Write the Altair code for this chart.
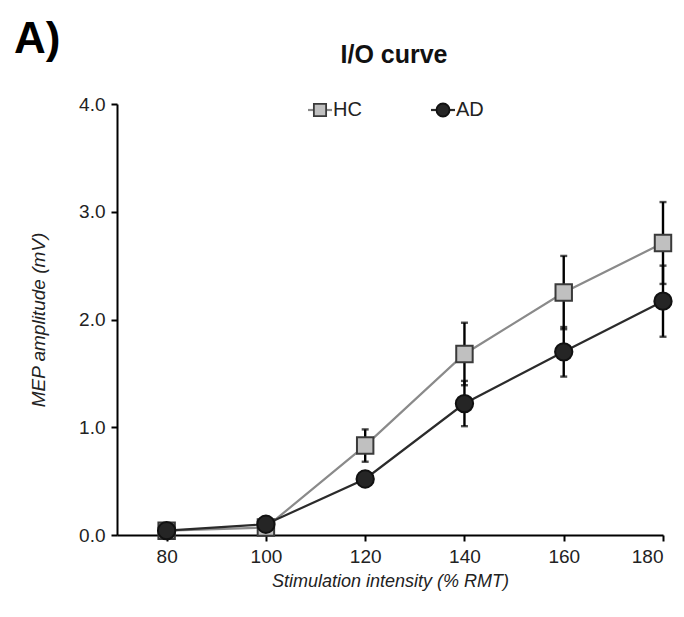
import altair as alt
import pandas as pd

# Stimulation intensities (% RMT)
intensity = [80, 100, 120, 140, 160, 180]

# Mean MEP amplitude (mV) and error per group
hc_mean = [0.04, 0.07, 0.83, 1.68, 2.25, 2.71]
hc_err = [0.02, 0.03, 0.15, 0.29, 0.34, 0.38]
ad_mean = [0.04, 0.10, 0.52, 1.22, 1.70, 2.17]
ad_err = [0.02, 0.03, 0.06, 0.21, 0.23, 0.33]

groups = ["HC", "AD"]

rows = []
for g, means, errs in (("HC", hc_mean, hc_err), ("AD", ad_mean, ad_err)):
    for x, m, e in zip(intensity, means, errs):
        rows.append({"group": g, "x": x, "mean": m, "lo": m - e, "hi": m + e})
df = pd.DataFrame(rows)
hc_df = df[df.group == "HC"]
ad_df = df[df.group == "AD"]

FONT = "Liberation Sans"
W, H = 546, 431

xscale = alt.Scale(domain=[70, 180], nice=False, zero=False)
yscale = alt.Scale(domain=[0, 4], nice=False)

x_axis = alt.Axis(
    values=intensity, title="Stimulation  intensity  (% RMT)", grid=False,
    labelFontSize=19, labelColor="#222222", labelFont=FONT, labelPadding=6,
    titleFontSize=18, titleFont=FONT, titleFontStyle="italic", titleFontWeight="normal",
    titleColor="#222222", titlePadding=6,
    domainColor="#000000", domainWidth=2, tickColor="#000000", tickWidth=2, tickSize=6,
)
y_axis = alt.Axis(
    values=[0, 1, 2, 3, 4], format=".1f", title="MEP amplitude   (mV)", grid=False,
    labelFontSize=19, labelColor="#222222", labelFont=FONT, labelPadding=6,
    titleFontSize=19, titleFont=FONT, titleFontStyle="italic", titleFontWeight="normal",
    titleColor="#222222", titlePadding=30,
    domainColor="#000000", domainWidth=2, tickColor="#000000", tickWidth=2, tickSize=6,
)

X = alt.X("x:Q", scale=xscale, axis=x_axis)
Y = alt.Y("mean:Q", scale=yscale, axis=y_axis)

hc_line = alt.Chart(hc_df).mark_line(color="#8a8a8a", strokeWidth=2.2).encode(x=X, y=Y)
ad_line = alt.Chart(ad_df).mark_line(color="#2b2b2b", strokeWidth=2.2).encode(x=X, y=Y)

bars = alt.Chart(df).mark_rule(color="#000000", strokeWidth=2.4).encode(
    x=alt.X("x:Q", scale=xscale), y=alt.Y("lo:Q", scale=yscale), y2="hi:Q"
)
caps_hi = alt.Chart(df).mark_tick(color="#000000", thickness=2.4, size=7, orient="horizontal").encode(
    x=alt.X("x:Q", scale=xscale), y=alt.Y("hi:Q", scale=yscale)
)
caps_lo = alt.Chart(df).mark_tick(color="#000000", thickness=2.4, size=7, orient="horizontal").encode(
    x=alt.X("x:Q", scale=xscale), y=alt.Y("lo:Q", scale=yscale)
)

hc_pts = alt.Chart(hc_df).mark_point(
    shape="square", size=270, filled=True, fill="#c0c0c0", stroke="#3a3a3a", strokeWidth=2, opacity=1
).encode(x=X, y=Y)
ad_pts = alt.Chart(ad_df).mark_point(
    shape="circle", size=300, filled=True, fill="#252525", stroke="#111111", strokeWidth=2, opacity=1
).encode(x=X, y=Y)

# Legend drawn at the top of the plot area
leg = pd.DataFrame({"group": groups})
leg_y = alt.value(6)
hc_leg_line = alt.Chart(leg[leg.group == "HC"]).mark_rule(color="#8a8a8a", strokeWidth=2.2).encode(
    x=alt.value(191), x2=alt.value(215), y=leg_y)
ad_leg_line = alt.Chart(leg[leg.group == "AD"]).mark_rule(color="#2b2b2b", strokeWidth=2.2).encode(
    x=alt.value(314), x2=alt.value(338), y=leg_y)
hc_leg_pt = alt.Chart(leg[leg.group == "HC"]).mark_point(
    shape="square", size=150, filled=True, fill="#c0c0c0", stroke="#3a3a3a", strokeWidth=1.8, opacity=1
).encode(x=alt.value(203), y=leg_y)
ad_leg_pt = alt.Chart(leg[leg.group == "AD"]).mark_point(
    shape="circle", size=170, filled=True, fill="#252525", stroke="#111111", strokeWidth=1.8, opacity=1
).encode(x=alt.value(326), y=leg_y)
hc_leg_txt = alt.Chart(leg[leg.group == "HC"]).mark_text(
    align="left", baseline="middle", fontSize=20, font=FONT, color="#222222"
).encode(x=alt.value(216), y=leg_y, text="group:N")
ad_leg_txt = alt.Chart(leg[leg.group == "AD"]).mark_text(
    align="left", baseline="middle", fontSize=20, font=FONT, color="#222222"
).encode(x=alt.value(339), y=leg_y, text="group:N")

# Chart title and panel letter
heading = alt.Chart(pd.DataFrame({"t": ["I/O curve"]})).mark_text(
    align="center", baseline="middle", fontSize=25, fontWeight="bold", font=FONT, color="#111111"
).encode(x=alt.value(277), y=alt.value(-49), text="t:N")
panel = alt.Chart(pd.DataFrame({"t": ["A)"]})).mark_text(
    align="left", baseline="middle", fontSize=44, fontWeight="bold", font=FONT, color="#000000"
).encode(x=alt.value(-103), y=alt.value(-64), text="t:N")

chart = alt.layer(
    hc_line, ad_line, bars, caps_hi, caps_lo, hc_pts, ad_pts,
    hc_leg_line, ad_leg_line, hc_leg_pt, ad_leg_pt, hc_leg_txt, ad_leg_txt, heading, panel,
).properties(
    width=W, height=H,
    autosize=alt.AutoSizeParams(type="none"),
    padding={"left": 117, "top": 104, "right": 21, "bottom": 82},
    background="white",
).configure_view(stroke=None)

chart.save("out.html", embed_options={"renderer": "svg", "actions": False})
